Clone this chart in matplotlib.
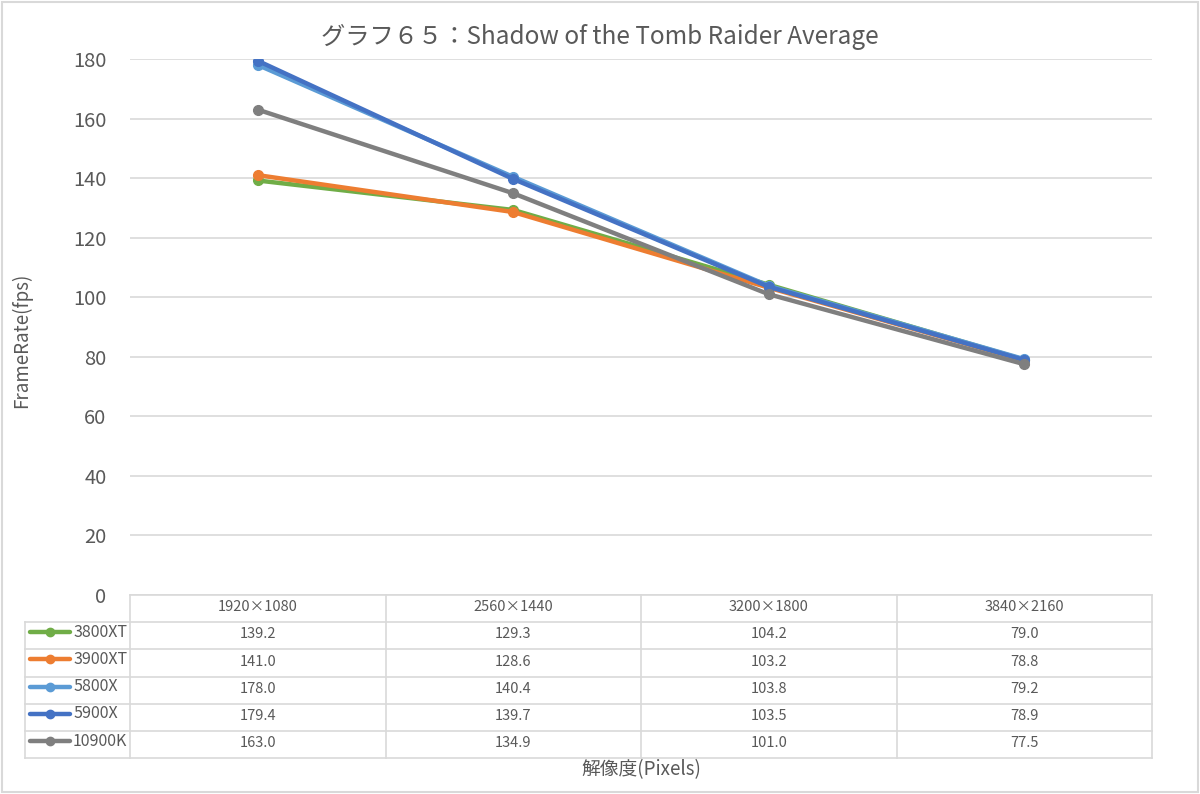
import matplotlib
matplotlib.use("Agg")
import matplotlib.pyplot as plt
from matplotlib.patches import Rectangle

plt.rcParams['font.family'] = ['Noto Sans CJK JP', 'DejaVu Sans']

# data
resolutions = ["1920×1080", "2560×1440", "3200×1800", "3840×2160"]
cpus = ["3800XT", "3900XT", "5800X", "5900X", "10900K"]
fps_3800xt = [139.2, 129.3, 104.2, 79.0]
fps_3900xt = [141.0, 128.6, 103.2, 78.8]
fps_5800x = [178.0, 140.4, 103.8, 79.2]
fps_5900x = [179.4, 139.7, 103.5, 78.9]
fps_10900k = [163.0, 134.9, 101.0, 77.5]
series = [fps_3800xt, fps_3900xt, fps_5800x, fps_5900x, fps_10900k]
colors = ["#70AD47", "#ED7D31", "#5B9BD5", "#4472C4", "#7F7F7F"]

text_col = "#595959"
grid_col = "#d9d9d9"

fig = plt.figure(figsize=(12, 7.94), dpi=100)
fig.patches.append(Rectangle((0.002, 0.002), 0.996, 0.996, transform=fig.transFigure,
                             fill=False, edgecolor=grid_col, linewidth=1.5))

ax = fig.add_axes([130 / 1200, 1 - 595 / 794, 1022 / 1200, 536 / 794])
x = list(range(len(resolutions)))
for vals, c in zip(series, colors):
    ax.plot(x, vals, color=c, linewidth=3.2, marker="o", markersize=7,
            solid_capstyle="round", zorder=3)

ax.set_xlim(-0.5, 3.5)
ax.set_ylim(0, 180)
ax.set_yticks(range(0, 181, 20))
ax.yaxis.grid(True, color=grid_col, linewidth=1.2)
ax.set_axisbelow(True)
ax.set_xticks([])
for s in ax.spines.values():
    s.set_visible(False)
ax.tick_params(axis="y", length=0, labelsize=14.5, labelcolor=text_col, pad=17)

fig.text(0.5, 1 - 37 / 794, "グラフ６５：Shadow of the Tomb Raider Average", fontsize=17.5,
         color=text_col, ha="center", va="center")
fig.text(22 / 1200, 1 - 340 / 794, "FrameRate(fps)", rotation=90, ha="center",
         va="center", fontsize=13.5, color=text_col)
fig.text(641 / 1200, 1 - 770 / 794, "解像度(Pixels)", ha="center", va="center",
         fontsize=13.5, color=text_col)

# data table below the axes
tr = ax.get_xaxis_transform()
row_h = 27.2 / 536
left_x = -0.5 - (130 - 25) / (1022 / 4)
n_rows = len(cpus)
bottom = -row_h * (n_rows + 1)

def hline(y, x0, x1):
    ax.plot([x0, x1], [y, y], color=grid_col, linewidth=1.2, transform=tr, clip_on=False)

def vline(xv, y0, y1):
    ax.plot([xv, xv], [y0, y1], color=grid_col, linewidth=1.2, transform=tr, clip_on=False)

hline(0, -0.5, 3.5)
for i in range(1, n_rows + 2):
    hline(-row_h * i, left_x, 3.5)
vline(left_x, -row_h, bottom)
for k in range(len(resolutions) + 1):
    vline(-0.5 + k, 0, bottom)

for j, lab in enumerate(resolutions):
    ax.text(j, -row_h * 0.45, lab, transform=tr, ha="center", va="center",
            fontsize=10.5, color=text_col)

for i, (name, vals, c) in enumerate(zip(cpus, series, colors)):
    yc = -row_h * (i + 1.45)
    lx0 = left_x + 5 / 255.5
    lx1 = left_x + 45 / 255.5
    ax.plot([lx0, lx1], [yc + 0.004, yc + 0.004], color=c, linewidth=3.2, transform=tr,
            clip_on=False, solid_capstyle="round")
    ax.plot([(lx0 + lx1) / 2], [yc + 0.004], marker="o", markersize=6, color=c,
            transform=tr, clip_on=False)
    ax.text(left_x + 48 / 255.5, yc + 0.004, name, transform=tr, ha="left", va="center",
            fontsize=11.5, color=text_col)
    for j, v in enumerate(vals):
        ax.text(j, yc, f"{v:.1f}", transform=tr, ha="center", va="center",
                fontsize=10.5, color=text_col)

fig.savefig("out.png", dpi=100)
